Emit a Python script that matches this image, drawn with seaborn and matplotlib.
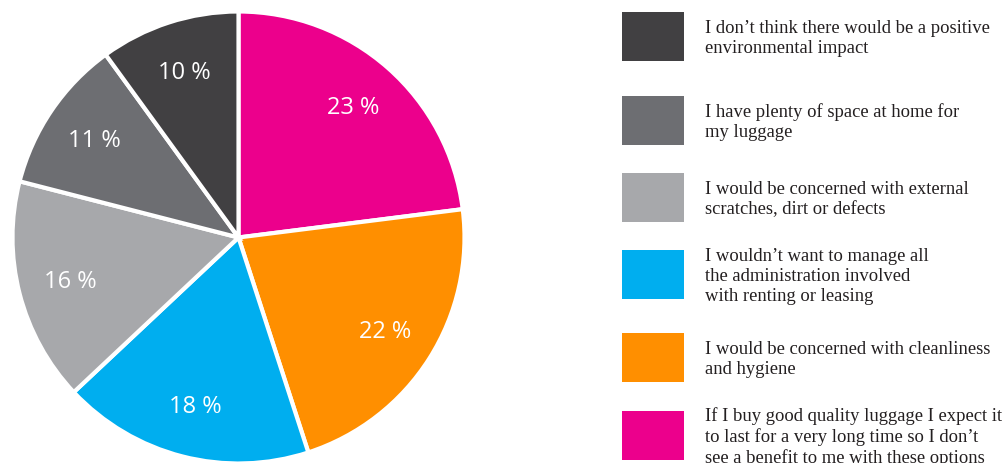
import matplotlib
matplotlib.use("Agg")
import matplotlib.pyplot as plt
from matplotlib.patches import Rectangle
import seaborn as sns

sns.set_theme(style="white")
plt.rcParams["font.family"] = ["DejaVu Sans"]

# Survey answers, in pie order (clockwise from 12 o'clock)
reasons = [
    "If I buy good quality luggage I expect it\nto last for a very long time so I don\u2019t\nsee a benefit to me with these options",
    "I would be concerned with cleanliness\nand hygiene",
    "I wouldn\u2019t want to manage all\nthe administration involved\nwith renting or leasing",
    "I would be concerned with external\nscratches, dirt or defects",
    "I have plenty of space at home for\nmy luggage",
    "I don\u2019t think there would be a positive\nenvironmental impact",
]
shares = [23, 22, 18, 16, 11, 10]
colors = ["#EC008C", "#FF8F00", "#00AEEF", "#A7A8AB", "#6D6E72", "#414042"]

W, H = 1006, 464
fig = plt.figure(figsize=(W / 100, H / 100), dpi=100)
fig.patch.set_facecolor("white")

# Pie axes: centre (238, 239) px, radius 226 px
cx, cy, r = 238.5, 238.5, 226
ax = fig.add_axes([(cx - r) / W, (H - cy - r) / H, 2 * r / W, 2 * r / H])
wedges, _, pct_texts = ax.pie(
    shares,
    colors=colors,
    startangle=90,
    counterclock=False,
    radius=1.0,
    autopct=lambda p: f"{round(p)} %",
    pctdistance=0.77,
    wedgeprops=dict(edgecolor="white", linewidth=3),
    textprops=dict(color="white", fontsize=17, family=["Open Sans", "DejaVu Sans"]),
)
ax.set_xlim(-1, 1)
ax.set_ylim(-1, 1)
ax.set_aspect("equal")
ax.axis("off")

# Legend drawn on a pixel-unit overlay, listed from the last slice to the first
lax = fig.add_axes([0, 0, 1, 1])
lax.set_xlim(0, W)
lax.set_ylim(H, 0)
lax.axis("off")
box_x, box_w, box_h, text_x = 622, 62, 49, 705
box_tops = [12.7, 96.7, 174, 250.7, 334, 411.7]
for top, label, color in zip(box_tops, reasons[::-1], colors[::-1]):
    lax.add_patch(Rectangle((box_x, top), box_w, box_h, facecolor=color, edgecolor="none"))
    lax.text(text_x, top + box_h / 2 + 1, label, va="center", ha="left",
             fontsize=13.4, color="#231F20", linespacing=1.22,
             family=["Liberation Serif", "DejaVu Serif"])

fig.savefig("out.png", dpi=100, facecolor="white")
